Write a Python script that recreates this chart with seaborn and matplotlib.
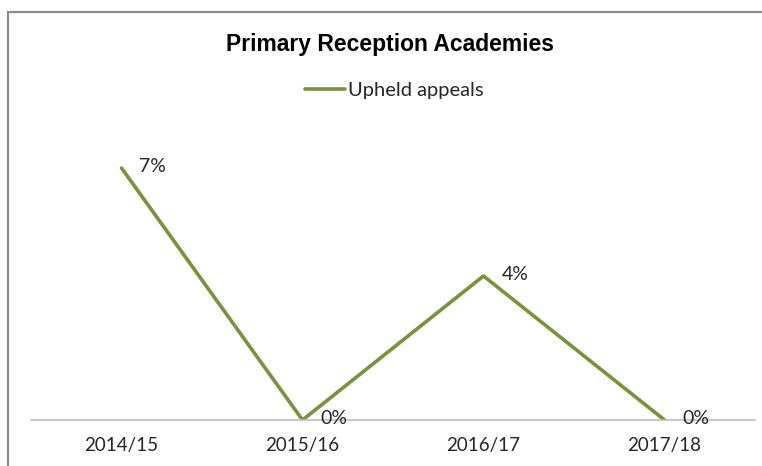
import matplotlib
matplotlib.use("Agg")
import matplotlib.pyplot as plt
import seaborn as sns
import pandas as pd
from matplotlib.patches import Rectangle

years = ["2014/15", "2015/16", "2016/17", "2017/18"]
upheld = [7, 0, 4, 0]
labels = ["7%", "0%", "4%", "0%"]

df = pd.DataFrame({"year": years, "upheld": upheld})
pos = list(range(len(years)))

sns.set_theme(style="white")
plt.rcParams["font.family"] = ["Lato", "DejaVu Sans"]

W, H = 762, 466
fig = plt.figure(figsize=(W / 100, H / 100), dpi=100)
ax = fig.add_axes([31 / W, (H - 420) / H, (755 - 31) / W, (420 - 114) / H])

green = "#77933C"
sns.lineplot(x=pos, y=df["upheld"], ax=ax, color=green, linewidth=2.6,
             label="Upheld appeals", legend=False)

for x, y, t in zip(pos, upheld, labels):
    ax.annotate(t, (x, y), xytext=(18, 1), textcoords="offset pixels",
                ha="left", va="center", fontsize=14, color="#262626")

ax.set_xlim(-0.5, 3.5)
ax.set_ylim(0, 8.5)
ax.set_xticks(pos)
ax.set_xticklabels(years, fontsize=13.5, color="#262626")
ax.set_yticks([])
ax.set_xlabel("")
ax.set_ylabel("")
ax.tick_params(axis="x", length=0, pad=12)
for s in ["top", "right", "left"]:
    ax.spines[s].set_visible(False)
ax.spines["bottom"].set_color("#BFBFBF")
ax.spines["bottom"].set_linewidth(1.2)
ax.patch.set_alpha(0)

fig.text(390 / W, 1 - 44 / H, "Primary Reception Academies", ha="center", va="center",
         fontsize=16.5, fontweight="bold", family=["Liberation Sans", "DejaVu Sans"],
         color="black")

leg = fig.legend(handles=ax.get_lines()[:1], labels=["Upheld appeals"], loc="center",
                 bbox_to_anchor=(394 / W, 1 - 90 / H), frameon=False, fontsize=14.5,
                 handlelength=2.0, handletextpad=0.15)

fig.patches.append(Rectangle((7.5 / W, -0.1), 1.2, 1 - 12 / H + 0.1, transform=fig.transFigure,
                             fill=False, edgecolor="#8C8C8C", linewidth=1.6))

fig.savefig("out.png", dpi=100)
